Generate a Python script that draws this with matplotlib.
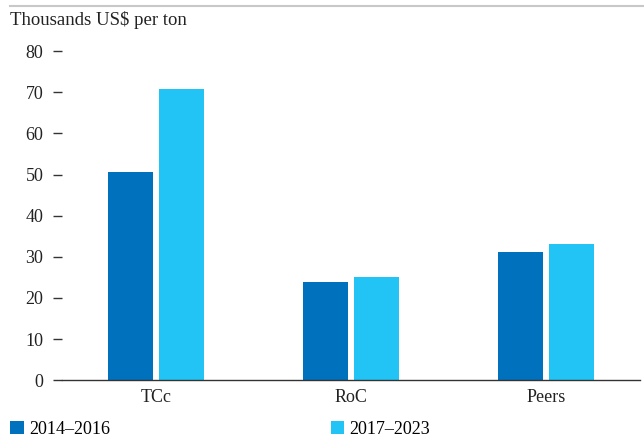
import matplotlib
matplotlib.use("Agg")
import matplotlib.pyplot as plt
from matplotlib.lines import Line2D
from matplotlib.patches import Patch

# ── Datos ──────────────────────────────────────────────────────────
categories = ["TCc", "RoC", "Peers"]
series_names = ["2014\u20132016", "2017\u20132023"]
values_2014_2016 = [50.6, 23.8, 31.1]
values_2017_2023 = [70.8, 25.0, 33.0]
y_ticks = [0, 10, 20, 30, 40, 50, 60, 70, 80]

# ── Colores ────────────────────────────────────────────────────────
COLOR_DARK = "#0071bc"
COLOR_LIGHT = "#22c4f5"
TEXT = "#222222"

plt.rcParams["font.family"] = ["Liberation Serif", "DejaVu Serif"]

fig = plt.figure(figsize=(6.44, 4.37), dpi=100)
ax = fig.add_axes([0.0963, 0.130, 0.8975, 0.753])

x = list(range(len(categories)))
w = 0.231
off = 0.133
ax.bar([i - off for i in x], values_2014_2016, width=w, color=COLOR_DARK)
ax.bar([i + off for i in x], values_2017_2023, width=w, color=COLOR_LIGHT)

ax.set_xlim(-0.482, 2.482)
ax.set_ylim(0, 80)
ax.set_yticks(y_ticks)
ax.set_xticks(x)
ax.set_xticklabels(categories)

ax.tick_params(axis="y", length=6.5, width=1, color="#333333",
               labelsize=13, labelcolor=TEXT, pad=7)
ax.tick_params(axis="x", length=0, labelsize=13, labelcolor=TEXT, pad=6)

for s in ("top", "right", "left"):
    ax.spines[s].set_visible(False)
ax.spines["bottom"].set_color("#333333")
ax.spines["bottom"].set_linewidth(1)

# Título del eje
fig.text(0.015, 0.955, "Thousands US$ per ton", fontsize=13.5,
         color=TEXT, va="center", ha="left")

# Línea gris superior
fig.add_artist(Line2D([0.015, 1.0], [0.986, 0.986], color="#c8c8c8",
                      linewidth=1.5, transform=fig.transFigure))

# Leyenda
handles = [Patch(facecolor=COLOR_DARK, edgecolor="none"),
           Patch(facecolor=COLOR_LIGHT, edgecolor="none")]
fig.legend(handles, series_names, loc="center left",
           bbox_to_anchor=(0.005, 0.017), ncol=2, frameon=False,
           fontsize=13, handlelength=0.75, handleheight=0.75,
           handletextpad=0.3, columnspacing=12.2, borderaxespad=0)

fig.savefig("out.png", dpi=100)
